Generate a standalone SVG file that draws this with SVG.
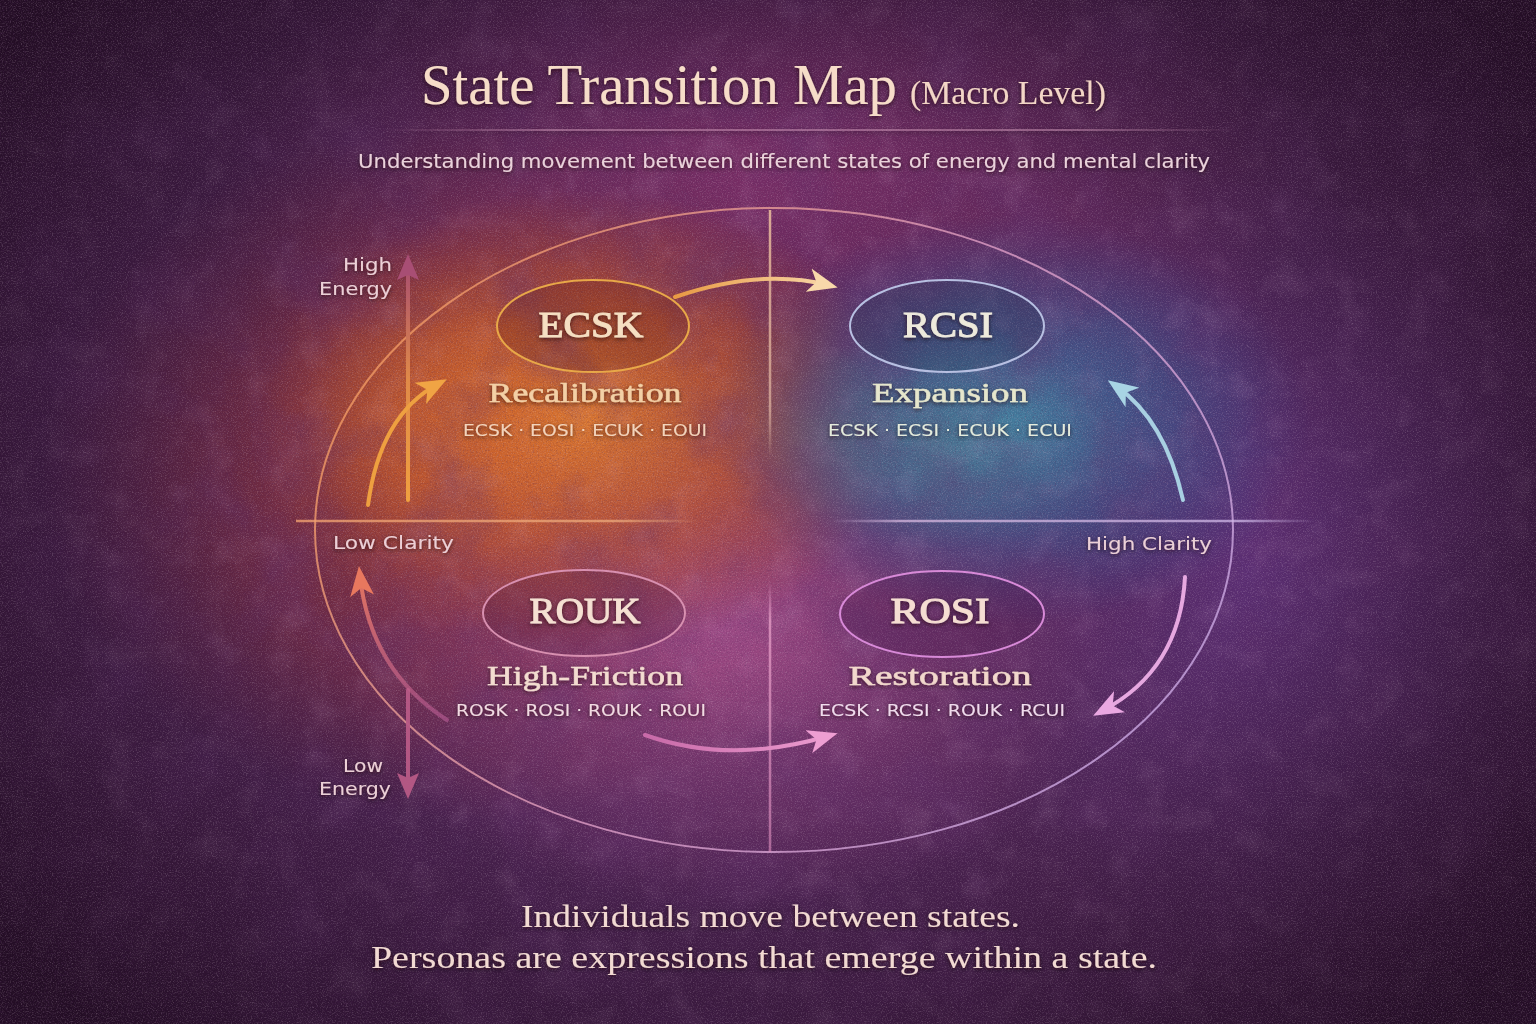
<svg xmlns="http://www.w3.org/2000/svg" width="1536" height="1024" viewBox="0 0 1536 1024">
<defs>
  <style>
    .serif{font-family:"Liberation Serif","Times New Roman",serif;}
    .sans{font-family:"DejaVu Sans","Liberation Sans",sans-serif;}
    .nname{font-size:36px;text-anchor:middle;stroke-width:1px;}
    .nsub{font-size:28px;text-anchor:middle;stroke-width:0.5px;}
    .codes{font-size:15px;text-anchor:middle;}
    .axlab{font-size:18px;fill:#ecd0d6;}
    .conn{fill:none;stroke-width:4;stroke-linecap:round;}
    .shadow{filter:url(#tshadow);}
  </style>
  <filter id="tshadow" x="-10%" y="-30%" width="120%" height="160%">
    <feDropShadow dx="0" dy="1.5" stdDeviation="2" flood-color="#1a0612" flood-opacity="0.7"/>
  </filter>
  <filter id="grainLight" filterUnits="userSpaceOnUse" x="0" y="0" width="1536" height="1024">
    <feTurbulence type="fractalNoise" baseFrequency="0.8" numOctaves="3" seed="7"/>
    <feColorMatrix type="matrix" values="0 0 0 0 1  0 0 0 0 0.85  0 0 0 0 0.92  2.2 0 0 0 -1.05"/>
  </filter>
  <filter id="grainDark" filterUnits="userSpaceOnUse" x="0" y="0" width="1536" height="1024">
    <feTurbulence type="fractalNoise" baseFrequency="0.6" numOctaves="2" seed="11"/>
    <feColorMatrix type="matrix" values="0 0 0 0 0.08  0 0 0 0 0.02  0 0 0 0 0.1  -2.2 0 0 0 1.1"/>
  </filter>
  <filter id="mottle" filterUnits="userSpaceOnUse" x="0" y="0" width="1536" height="1024">
    <feTurbulence type="fractalNoise" baseFrequency="0.012" numOctaves="4" seed="5"/>
    <feColorMatrix type="matrix" values="0 0 0 0 0.12  0 0 0 0 0.03  0 0 0 0 0.15  -2 0 0 0 1.1"/>
  </filter>
  <filter id="mottleLight" filterUnits="userSpaceOnUse" x="0" y="0" width="1536" height="1024">
    <feTurbulence type="fractalNoise" baseFrequency="0.03" numOctaves="4" seed="19"/>
    <feColorMatrix type="matrix" values="0 0 0 0 0.85  0 0 0 0 0.55  0 0 0 0 0.8  2 0 0 0 -1"/>
  </filter>

  <radialGradient id="gMag" gradientUnits="userSpaceOnUse" cx="0" cy="0" r="1" gradientTransform="translate(760 180) scale(560 280)">
    <stop offset="0" stop-color="#84306a" stop-opacity="0.8"/>
    <stop offset="1" stop-color="#7e2e66" stop-opacity="0"/>
  </radialGradient>
  <radialGradient id="gRed" gradientUnits="userSpaceOnUse" cx="0" cy="0" r="1" gradientTransform="translate(470 470) scale(430 350)">
    <stop offset="0" stop-color="#b2422e" stop-opacity="0.8"/>
    <stop offset="0.6" stop-color="#8e3038" stop-opacity="0.45"/>
    <stop offset="1" stop-color="#7a2a3e" stop-opacity="0"/>
  </radialGradient>
  <radialGradient id="gOrange" gradientUnits="userSpaceOnUse" cx="0" cy="0" r="1" gradientTransform="translate(580 420) scale(330 230)">
    <stop offset="0" stop-color="#de7c2e" stop-opacity="0.95"/>
    <stop offset="0.5" stop-color="#c85c28" stop-opacity="0.65"/>
    <stop offset="1" stop-color="#b04a2a" stop-opacity="0"/>
  </radialGradient>
  <radialGradient id="gOrange2" gradientUnits="userSpaceOnUse" cx="0" cy="0" r="1" gradientTransform="translate(470 420) scale(170 150)">
    <stop offset="0" stop-color="#d86a28" stop-opacity="0.55"/>
    <stop offset="1" stop-color="#d86a28" stop-opacity="0"/>
  </radialGradient>
  <radialGradient id="gBlue" gradientUnits="userSpaceOnUse" cx="0" cy="0" r="1" gradientTransform="translate(1010 420) scale(300 205)">
    <stop offset="0" stop-color="#3e7aa4" stop-opacity="0.95"/>
    <stop offset="0.55" stop-color="#3a5e96" stop-opacity="0.55"/>
    <stop offset="1" stop-color="#3a4a90" stop-opacity="0"/>
  </radialGradient>
  <radialGradient id="gTeal" gradientUnits="userSpaceOnUse" cx="0" cy="0" r="1" gradientTransform="translate(940 440) scale(190 110)">
    <stop offset="0" stop-color="#4c8a94" stop-opacity="0.5"/>
    <stop offset="1" stop-color="#4c8a94" stop-opacity="0"/>
  </radialGradient>
  <radialGradient id="gPink" gradientUnits="userSpaceOnUse" cx="0" cy="0" r="1" gradientTransform="translate(730 630) scale(400 280)">
    <stop offset="0" stop-color="#b65696" stop-opacity="0.8"/>
    <stop offset="1" stop-color="#9a4488" stop-opacity="0"/>
  </radialGradient>
  <radialGradient id="gPurpR" gradientUnits="userSpaceOnUse" cx="0" cy="0" r="1" gradientTransform="translate(1260 560) scale(340 400)">
    <stop offset="0" stop-color="#66368a" stop-opacity="0.65"/>
    <stop offset="1" stop-color="#62347e" stop-opacity="0"/>
  </radialGradient>
  <radialGradient id="gVig" gradientUnits="userSpaceOnUse" cx="0" cy="0" r="1" gradientTransform="translate(768 500) scale(980 720)">
    <stop offset="0.5" stop-color="#160616" stop-opacity="0"/>
    <stop offset="1" stop-color="#160616" stop-opacity="0.75"/>
  </radialGradient>

  <linearGradient id="gFrame" gradientUnits="userSpaceOnUse" x1="360" y1="230" x2="1200" y2="830">
    <stop offset="0" stop-color="#f0944c"/>
    <stop offset="0.5" stop-color="#d898c0"/>
    <stop offset="1" stop-color="#c0a4e4"/>
  </linearGradient>
  <linearGradient id="gHL" gradientUnits="userSpaceOnUse" x1="295" y1="0" x2="700" y2="0">
    <stop offset="0" stop-color="#f0a070" stop-opacity="0.8"/>
    <stop offset="0.8" stop-color="#f0b080" stop-opacity="0.7"/>
    <stop offset="1" stop-color="#f0b080" stop-opacity="0"/>
  </linearGradient>
  <linearGradient id="gHR" gradientUnits="userSpaceOnUse" x1="830" y1="0" x2="1315" y2="0">
    <stop offset="0" stop-color="#d8b8e0" stop-opacity="0"/>
    <stop offset="0.15" stop-color="#d8b8e0" stop-opacity="0.75"/>
    <stop offset="0.85" stop-color="#d0b8e8" stop-opacity="0.75"/>
    <stop offset="1" stop-color="#d0b8e8" stop-opacity="0"/>
  </linearGradient>
  <linearGradient id="gVU" gradientUnits="userSpaceOnUse" x1="0" y1="210" x2="0" y2="460">
    <stop offset="0" stop-color="#f4c8a0" stop-opacity="0.8"/>
    <stop offset="0.8" stop-color="#f0c8b0" stop-opacity="0.6"/>
    <stop offset="1" stop-color="#f0c8b0" stop-opacity="0"/>
  </linearGradient>
  <linearGradient id="gVL" gradientUnits="userSpaceOnUse" x1="0" y1="580" x2="0" y2="850">
    <stop offset="0" stop-color="#e8a0c8" stop-opacity="0"/>
    <stop offset="0.15" stop-color="#e8a0c8" stop-opacity="0.75"/>
    <stop offset="1" stop-color="#e090c0" stop-opacity="0.6"/>
  </linearGradient>
  <linearGradient id="gTitleLine" gradientUnits="userSpaceOnUse" x1="380" y1="0" x2="1240" y2="0">
    <stop offset="0" stop-color="#d8a0c0" stop-opacity="0"/>
    <stop offset="0.2" stop-color="#d8a0c0" stop-opacity="0.6"/>
    <stop offset="0.8" stop-color="#d8a0c0" stop-opacity="0.6"/>
    <stop offset="1" stop-color="#d8a0c0" stop-opacity="0"/>
  </linearGradient>
  <linearGradient id="gEnergyUp" gradientUnits="userSpaceOnUse" x1="0" y1="260" x2="0" y2="500">
    <stop offset="0" stop-color="#a64c72"/>
    <stop offset="0.5" stop-color="#e08a48"/>
    <stop offset="1" stop-color="#f0a040"/>
  </linearGradient>
  <linearGradient id="gA1" gradientUnits="userSpaceOnUse" x1="675" y1="0" x2="830" y2="0">
    <stop offset="0" stop-color="#e89a44"/>
    <stop offset="1" stop-color="#f8d6a8"/>
  </linearGradient>
  <linearGradient id="gA5" gradientUnits="userSpaceOnUse" x1="645" y1="0" x2="830" y2="0">
    <stop offset="0" stop-color="#c86aa8"/>
    <stop offset="1" stop-color="#ec9cd0"/>
  </linearGradient>
  <linearGradient id="gA6" gradientUnits="userSpaceOnUse" x1="0" y1="720" x2="0" y2="570">
    <stop offset="0" stop-color="#b85c96" stop-opacity="0.6"/>
    <stop offset="1" stop-color="#e8785e"/>
  </linearGradient>

  <marker id="mOrange" viewBox="0 0 30 24" refX="20" refY="12" markerWidth="30" markerHeight="24" markerUnits="userSpaceOnUse" orient="auto">
    <path d="M0,0 L30,12 L0,24 L8,12 Z" fill="#f0a444"/>
  </marker>
  <marker id="mCream" viewBox="0 0 30 24" refX="20" refY="12" markerWidth="30" markerHeight="24" markerUnits="userSpaceOnUse" orient="auto">
    <path d="M0,0 L30,12 L0,24 L8,12 Z" fill="#f8d8aa"/>
  </marker>
  <marker id="mBlue" viewBox="0 0 30 24" refX="20" refY="12" markerWidth="30" markerHeight="24" markerUnits="userSpaceOnUse" orient="auto">
    <path d="M0,0 L30,12 L0,24 L8,12 Z" fill="#a8d4e4"/>
  </marker>
  <marker id="mLilac" viewBox="0 0 30 24" refX="20" refY="12" markerWidth="30" markerHeight="24" markerUnits="userSpaceOnUse" orient="auto">
    <path d="M0,0 L30,12 L0,24 L8,12 Z" fill="#eaa8e2"/>
  </marker>
  <marker id="mPink" viewBox="0 0 30 24" refX="20" refY="12" markerWidth="30" markerHeight="24" markerUnits="userSpaceOnUse" orient="auto">
    <path d="M0,0 L30,12 L0,24 L8,12 Z" fill="#ee9ed2"/>
  </marker>
  <marker id="mSalmon" viewBox="0 0 30 24" refX="20" refY="12" markerWidth="30" markerHeight="24" markerUnits="userSpaceOnUse" orient="auto">
    <path d="M0,0 L30,12 L0,24 L8,12 Z" fill="#e8785e"/>
  </marker>
  <marker id="mMauve" viewBox="0 0 26 22" refX="6" refY="11" markerWidth="26" markerHeight="22" markerUnits="userSpaceOnUse" orient="auto">
    <path d="M0,0 L26,11 L0,22 L5,11 Z" fill="#a84e74"/>
  </marker>
  <marker id="mMauve2" viewBox="0 0 26 22" refX="6" refY="11" markerWidth="26" markerHeight="22" markerUnits="userSpaceOnUse" orient="auto">
    <path d="M0,0 L26,11 L0,22 L5,11 Z" fill="#b85a86"/>
  </marker>
</defs>

<g id="background">
  <rect x="0" y="0" width="1536" height="1024" fill="#4a2250"/>
  <rect x="0" y="0" width="1536" height="1024" fill="url(#gMag)"/>
  <rect x="0" y="0" width="1536" height="1024" fill="url(#gPurpR)"/>
  <rect x="0" y="0" width="1536" height="1024" fill="url(#gRed)"/>
  <rect x="0" y="0" width="1536" height="1024" fill="url(#gPink)"/>
  <rect x="0" y="0" width="1536" height="1024" fill="url(#gOrange)"/>
  <rect x="0" y="0" width="1536" height="1024" fill="url(#gOrange2)"/>
  <rect x="0" y="0" width="1536" height="1024" fill="url(#gBlue)"/>
  <rect x="0" y="0" width="1536" height="1024" fill="url(#gTeal)"/>
  <rect x="0" y="0" width="1536" height="1024" filter="url(#mottle)" opacity="0.45"/>
  <rect x="0" y="0" width="1536" height="1024" filter="url(#mottleLight)" opacity="0.12"/>
  <rect x="0" y="0" width="1536" height="1024" fill="url(#gVig)"/>
  <rect x="0" y="0" width="1536" height="1024" filter="url(#grainDark)" opacity="0.35"/>
  <rect x="0" y="0" width="1536" height="1024" filter="url(#grainLight)" opacity="0.22"/>
</g>

<g id="frame" fill="none">
  <ellipse cx="774" cy="530" rx="459" ry="322" stroke="url(#gFrame)" stroke-width="2" opacity="0.85"/>
  <line x1="296" y1="521" x2="700" y2="521" stroke="url(#gHL)" stroke-width="2.5"/>
  <line x1="830" y1="521" x2="1315" y2="521" stroke="url(#gHR)" stroke-width="2.5"/>
  <line x1="770" y1="210" x2="770" y2="460" stroke="url(#gVU)" stroke-width="2.5"/>
  <line x1="770" y1="580" x2="770" y2="852" stroke="url(#gVL)" stroke-width="2.5"/>
</g>

<g id="title" class="serif shadow">
  <text x="421" y="104" font-size="56" fill="#f6dcc8" textLength="476" lengthAdjust="spacingAndGlyphs">State Transition Map</text>
  <text x="910" y="104" font-size="34" fill="#f3d6c6" textLength="196" lengthAdjust="spacingAndGlyphs">(Macro Level)</text>
  <line x1="380" y1="130" x2="1240" y2="130" stroke="url(#gTitleLine)" stroke-width="1.5"/>
  <text class="sans" x="358" y="168" font-size="19" fill="#ead2da" textLength="852" lengthAdjust="spacingAndGlyphs">Understanding movement between different states of energy and mental clarity</text>
</g>

<g id="axis-labels" class="sans shadow">
  <text class="axlab" x="392" y="271" text-anchor="end" textLength="49" lengthAdjust="spacingAndGlyphs">High</text>
  <text class="axlab" x="392" y="295" text-anchor="end" textLength="73" lengthAdjust="spacingAndGlyphs">Energy</text>
  <text class="axlab" x="333" y="549" textLength="121" lengthAdjust="spacingAndGlyphs" fill="#f0cca8">Low Clarity</text>
  <text class="axlab" x="1086" y="550" textLength="126" lengthAdjust="spacingAndGlyphs" fill="#e8e0ec">High Clarity</text>
  <text class="axlab" x="343" y="772" textLength="40" lengthAdjust="spacingAndGlyphs" fill="#e6c4d6">Low</text>
  <text class="axlab" x="319" y="795" textLength="72" lengthAdjust="spacingAndGlyphs" fill="#e6c4d6">Energy</text>
</g>

<g id="connectors">
  <line class="conn" x1="408" y1="500" x2="408" y2="274" stroke="url(#gEnergyUp)" stroke-width="3.5" marker-end="url(#mMauve)"/>
  <line class="conn" x1="408" y1="690" x2="408" y2="779" stroke="#b85a86" stroke-width="3.5" marker-end="url(#mMauve2)" opacity="0.95"/>
  <path class="conn" d="M 675 297 Q 760 268 828 285" stroke="url(#gA1)" marker-end="url(#mCream)"/>
  <path class="conn" d="M 368 505 Q 380 415 438 384" stroke="#eea040" marker-end="url(#mOrange)"/>
  <path class="conn" d="M 1183 500 Q 1165 420 1116 386" stroke="#a8d0e2" marker-end="url(#mBlue)"/>
  <path class="conn" d="M 1185 577 Q 1180 670 1102 711" stroke="#e6a8e0" marker-end="url(#mLilac)"/>
  <path class="conn" d="M 645 735 Q 730 765 828 736" stroke="url(#gA5)" marker-end="url(#mPink)"/>
  <path class="conn" d="M 447 720 Q 370 670 360 576" stroke="url(#gA6)" marker-end="url(#mSalmon)"/>
</g>

<g id="node-ecsk">
  <ellipse cx="593" cy="326" rx="96" ry="46" fill="#5a1a10" fill-opacity="0.22" stroke="#e8a848" stroke-width="2"/>
  <g class="serif shadow">
    <text class="nname" x="591" y="337" fill="#f5dfc2" stroke="#f5dfc2" textLength="105" lengthAdjust="spacingAndGlyphs">ECSK</text>
    <text class="nsub" x="585" y="402" fill="#f3d0a6" stroke="#f3d0a6" textLength="193" lengthAdjust="spacingAndGlyphs">Recalibration</text>
  </g>
  <text class="sans codes shadow" x="585" y="436" fill="#f2d4bc" textLength="244" lengthAdjust="spacingAndGlyphs">ECSK · EOSI · ECUK · EOUI</text>
</g>

<g id="node-rcsi">
  <ellipse cx="947" cy="326" rx="97" ry="46" fill="#1c3a50" fill-opacity="0.22" stroke="#b8c0e2" stroke-width="2"/>
  <g class="serif shadow">
    <text class="nname" x="948" y="337" fill="#eeeadc" stroke="#eeeadc" textLength="90" lengthAdjust="spacingAndGlyphs">RCSI</text>
    <text class="nsub" x="950" y="402" fill="#e6e6cc" stroke="#e6e6cc" textLength="156" lengthAdjust="spacingAndGlyphs">Expansion</text>
  </g>
  <text class="sans codes shadow" x="950" y="436" fill="#e6ecdc" textLength="244" lengthAdjust="spacingAndGlyphs">ECSK · ECSI · ECUK · ECUI</text>
</g>

<g id="node-rouk">
  <ellipse cx="584" cy="613" rx="101" ry="43" fill="#3a1030" fill-opacity="0.2" stroke="#d890b0" stroke-width="2"/>
  <g class="serif shadow">
    <text class="nname" x="585" y="623" fill="#f5e0d2" stroke="#f5e0d2" textLength="111" lengthAdjust="spacingAndGlyphs">ROUK</text>
    <text class="nsub" x="585" y="685" fill="#f3dcd0" stroke="#f3dcd0" textLength="196" lengthAdjust="spacingAndGlyphs">High-Friction</text>
  </g>
  <text class="sans codes shadow" x="581" y="716" fill="#f2dce2" textLength="250" lengthAdjust="spacingAndGlyphs">ROSK · ROSI · ROUK · ROUI</text>
</g>

<g id="node-rosi">
  <ellipse cx="942" cy="614" rx="102" ry="43" fill="#3a1040" fill-opacity="0.2" stroke="#d88ad8" stroke-width="2"/>
  <g class="serif shadow">
    <text class="nname" x="940" y="623" fill="#f5ddd2" stroke="#f5ddd2" textLength="99" lengthAdjust="spacingAndGlyphs">ROSI</text>
    <text class="nsub" x="940" y="685" fill="#f2d8cc" stroke="#f2d8cc" textLength="183" lengthAdjust="spacingAndGlyphs">Restoration</text>
  </g>
  <text class="sans codes shadow" x="942" y="716" fill="#f0dcec" textLength="246" lengthAdjust="spacingAndGlyphs">ECSK · RCSI · ROUK · RCUI</text>
</g>

<g id="footer" class="serif shadow">
  <text x="521" y="927" font-size="32" fill="#f2dad2" textLength="499" lengthAdjust="spacingAndGlyphs">Individuals move between states.</text>
  <text x="371" y="968" font-size="32" fill="#f2dad2" textLength="786" lengthAdjust="spacingAndGlyphs">Personas are expressions that emerge within a state.</text>
</g>
</svg>
